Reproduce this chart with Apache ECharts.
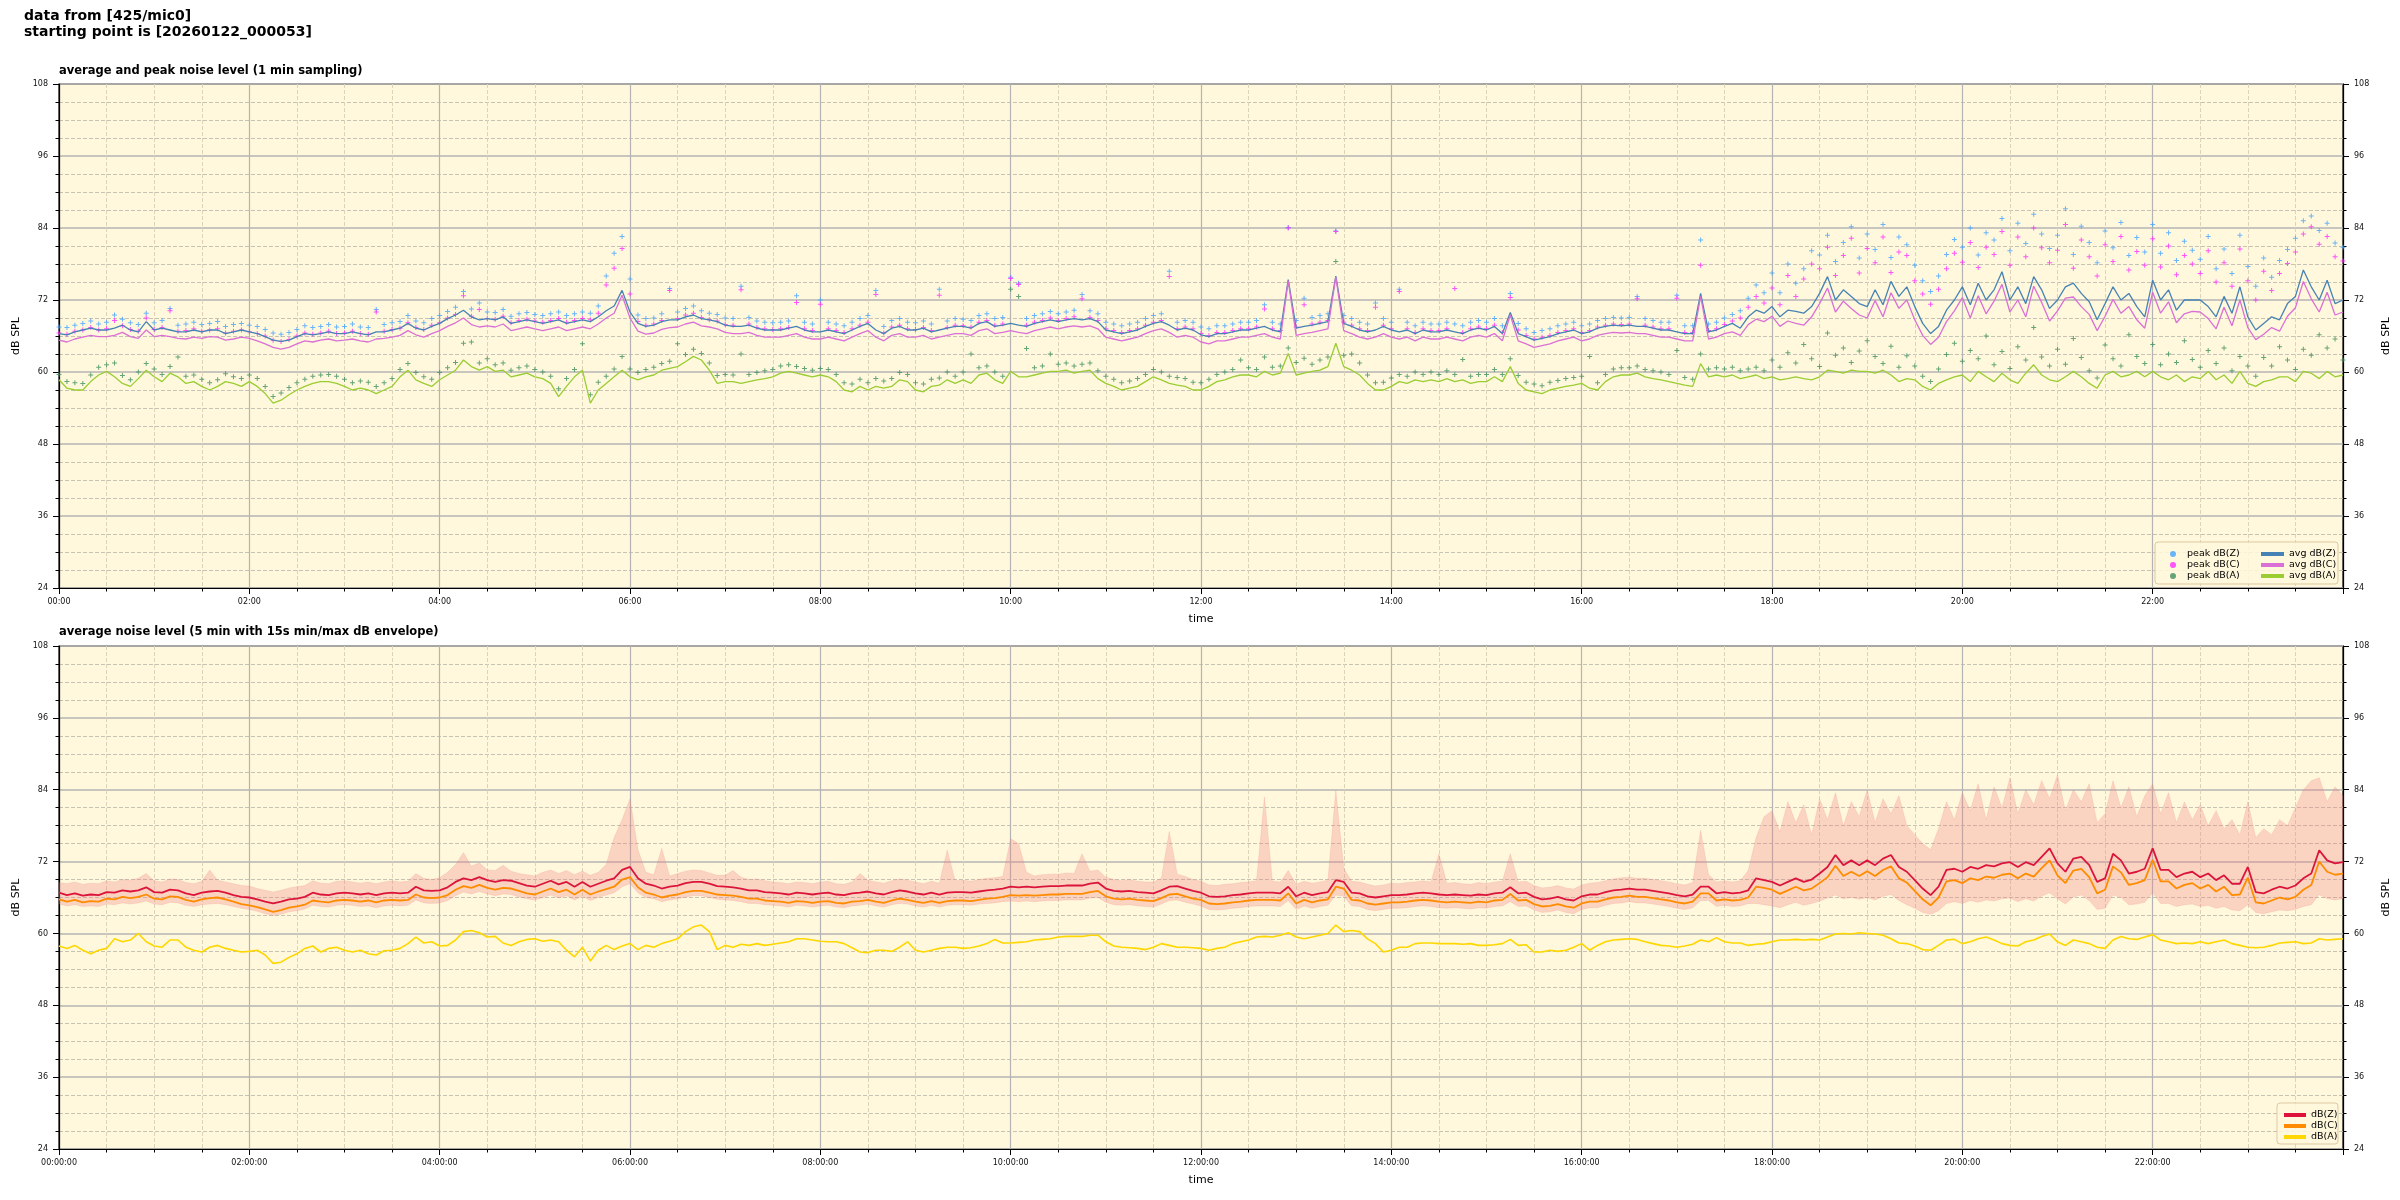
<!DOCTYPE html>
<html>
<head>
<meta charset="utf-8">
<title>noise level</title>
<script src="https://cdn.jsdelivr.net/npm/echarts@6/dist/echarts.min.js"></script>
<style>
  html, body { margin: 0; padding: 0; background: #fff; }
  #main { width: 2400px; height: 1200px; }
</style>
</head>
<body>
<div id="main"></div>
<script>
// one value every 5 minutes, 00:00 .. 24:00 (12 per row = 1 hour)
const avgZ = [
  66.4,66.2,66.7,67.0,67.3,67.0,67.0,67.3,67.8,67.0,66.7,68.4,
  67.0,67.3,67.0,66.7,66.7,67.0,66.7,67.0,67.0,66.4,66.7,67.0,
  66.7,66.4,65.9,65.3,65.1,65.3,65.9,66.4,66.2,66.4,66.7,66.4,
  66.4,66.7,66.4,66.2,66.7,66.7,67.0,67.3,68.1,67.3,67.0,67.6,
  68.1,68.9,69.5,70.3,69.2,68.7,68.9,68.7,69.2,68.1,68.4,68.7,
  68.4,68.1,68.4,68.7,68.1,68.4,68.7,68.4,69.2,70.2,71.0,73.6,
  70.0,68.1,67.6,67.8,68.4,68.7,68.7,69.2,69.5,68.9,68.7,68.4,
  67.8,67.6,67.6,67.8,67.3,67.0,67.0,67.0,67.3,67.6,67.0,66.7,
  66.7,67.0,66.7,66.4,67.0,67.6,68.1,67.0,66.4,67.3,67.6,67.0,
  67.0,67.3,66.7,67.0,67.3,67.6,67.6,67.3,68.1,68.4,67.6,67.8,
  68.1,67.8,67.6,68.1,68.4,68.7,68.4,68.7,68.9,68.7,68.9,68.4,
  67.0,66.7,66.4,66.7,67.0,67.6,68.1,68.4,67.8,67.0,67.3,67.0,
  66.2,65.9,66.4,66.4,66.7,67.0,67.0,67.3,67.6,67.0,66.7,75.4,
  67.3,67.6,67.8,68.1,68.4,76.0,68.1,67.6,67.0,66.7,67.0,67.6,
  67.0,66.7,67.0,66.4,67.0,66.7,66.7,67.0,66.7,66.4,67.0,67.3,
  67.0,67.6,66.4,69.9,66.4,65.9,65.3,65.6,65.9,66.4,66.7,67.0,
  66.4,66.7,67.3,67.6,67.8,67.7,67.8,67.6,67.6,67.3,67.0,67.0,
  66.7,66.4,66.4,73.1,66.7,67.0,67.6,68.1,67.3,69.2,70.3,69.8,
  70.9,69.2,70.3,70.1,69.8,70.9,73.1,75.9,72.0,73.7,72.6,71.4,
  70.9,73.7,71.2,75.1,72.6,74.2,70.9,68.1,66.4,67.6,70.3,72.0,
  74.2,71.2,74.8,72.0,73.7,76.7,72.0,74.2,71.4,75.9,73.7,70.6,
  72.0,74.2,74.8,73.1,71.7,68.7,71.4,74.2,72.0,73.1,70.9,69.2,
  75.3,72.0,73.7,70.3,72.0,72.0,72.0,70.9,69.2,72.6,69.8,74.2,
  69.2,67.0,68.1,69.2,68.7,71.4,72.6,77.0,74.2,72.0,75.3,71.4,
  72.0];
const avgC = [
  65.3,65.0,65.5,65.8,66.1,65.9,65.9,66.1,66.6,65.9,65.6,67.0,
  65.9,66.1,65.9,65.6,65.5,65.8,65.6,65.9,65.8,65.3,65.5,65.8,
  65.6,65.2,64.7,64.1,63.8,64.1,64.7,65.2,65.0,65.3,65.5,65.2,
  65.3,65.5,65.2,65.0,65.5,65.6,65.8,66.1,66.9,66.2,65.8,66.4,
  66.9,67.6,68.2,69.0,67.9,67.5,67.7,67.5,68.0,66.9,67.2,67.5,
  67.2,66.9,67.2,67.5,66.9,67.2,67.5,67.2,68.0,69.0,69.8,72.8,
  69.0,66.8,66.3,66.5,67.1,67.4,67.5,68.0,68.3,67.7,67.5,67.2,
  66.6,66.4,66.4,66.6,66.1,65.8,65.8,65.8,66.1,66.4,65.8,65.5,
  65.5,65.8,65.5,65.2,65.8,66.4,66.9,65.8,65.2,66.1,66.4,65.8,
  65.8,66.1,65.5,65.8,66.1,66.4,66.4,66.1,66.9,67.2,66.4,66.6,
  66.9,66.6,66.4,66.9,67.2,67.5,67.2,67.5,67.7,67.5,67.7,67.2,
  65.8,65.5,65.2,65.5,65.8,66.4,66.9,67.2,66.6,65.8,66.1,65.8,
  65.0,64.7,65.2,65.2,65.5,65.8,65.8,66.1,66.4,65.8,65.5,75.2,
  66.1,66.4,66.6,66.9,67.2,75.8,66.9,66.4,65.8,65.5,65.8,66.4,
  65.8,65.5,65.8,65.2,65.8,65.5,65.5,65.8,65.5,65.2,65.8,66.1,
  65.8,66.4,65.2,69.5,65.2,64.7,64.1,64.4,64.7,65.2,65.5,65.8,
  65.2,65.5,66.1,66.4,66.6,66.5,66.6,66.4,66.4,66.1,65.8,65.8,
  65.5,65.2,65.2,72.6,65.5,65.8,66.4,66.7,66.1,67.9,68.8,68.4,
  69.3,67.6,68.5,68.1,67.8,69.2,71.4,74.0,70.0,71.8,70.6,69.5,
  69.0,71.9,69.2,73.2,70.6,72.0,68.7,66.1,64.6,65.8,68.4,70.2,
  72.4,69.0,72.7,69.7,71.8,74.6,70.0,72.0,69.2,74.3,71.6,68.5,
  70.2,72.3,72.5,70.9,69.6,66.9,69.3,72.1,69.8,70.9,68.7,67.3,
  73.3,69.8,71.7,68.2,69.7,70.1,70.0,68.9,67.2,70.8,67.7,72.0,
  67.4,65.4,66.3,67.4,66.8,69.3,70.7,75.1,72.2,70.0,73.3,69.5,
  70.0];
const avgA = [
  58.7,57.3,57.0,57.0,58.4,59.5,60.1,59.2,58.1,57.6,58.9,60.3,
  59.2,58.4,59.8,59.2,58.1,58.4,57.6,57.0,57.6,58.4,58.1,57.6,
  58.4,57.6,56.4,54.8,55.3,56.2,57.0,57.6,58.1,58.4,58.4,58.1,
  57.6,57.0,57.3,57.0,56.4,57.0,57.6,59.2,60.3,58.7,58.1,57.6,
  58.7,59.5,60.3,62.0,60.9,60.3,60.9,60.1,60.3,59.2,59.5,59.8,
  59.2,58.9,58.1,55.9,57.6,59.2,60.3,54.8,57.0,58.1,59.2,60.3,
  59.2,58.7,59.2,59.5,60.3,60.6,60.9,61.7,62.6,62.0,60.3,58.1,
  58.4,58.4,58.1,58.4,58.7,58.9,59.2,59.8,60.1,59.8,59.5,59.2,
  59.5,59.2,58.4,57.0,56.7,57.6,57.0,57.6,57.3,57.6,58.7,58.4,
  57.0,56.7,57.6,57.8,58.7,58.1,58.7,58.1,59.5,59.8,58.7,58.1,
  60.1,59.2,59.2,59.5,59.8,60.1,60.1,60.3,59.8,60.1,60.3,58.9,
  58.1,57.6,57.0,57.3,57.6,58.4,59.2,58.7,58.1,57.8,57.6,57.0,
  57.0,57.6,58.4,58.7,59.2,59.5,59.5,59.2,60.1,59.5,59.8,63.1,
  59.5,59.8,60.1,60.3,60.9,64.8,60.9,60.3,59.5,58.1,57.0,57.0,
  57.6,58.4,58.1,58.7,58.4,58.7,58.4,58.9,58.4,58.7,58.1,58.4,
  58.4,59.2,58.4,60.9,58.1,57.0,56.7,56.4,57.0,57.3,57.6,57.8,
  58.1,57.3,57.0,58.4,59.2,59.5,59.5,59.8,59.2,58.9,58.7,58.4,
  58.1,57.8,57.6,61.4,59.2,59.5,59.2,59.5,58.9,59.2,59.5,58.9,
  59.2,58.7,58.9,59.2,58.9,58.7,59.2,60.3,60.1,59.8,60.3,60.1,
  60.1,59.8,60.3,59.5,58.4,58.9,58.7,57.6,57.0,58.1,58.7,59.2,
  59.5,58.4,60.1,59.2,58.4,59.8,58.7,58.1,59.8,61.2,59.5,58.7,
  58.4,59.2,60.1,59.2,58.1,57.3,59.5,60.1,59.2,59.5,60.1,59.2,
  60.1,59.2,58.7,59.5,58.4,59.2,58.9,60.1,58.7,59.5,58.1,60.1,
  58.1,57.6,58.4,58.7,59.2,59.2,58.4,60.1,59.8,58.9,60.1,59.2,
  59.5];
const peakZ = [
  67.5,67.4,67.8,68.1,68.5,68.0,68.3,69.5,68.8,68.2,67.9,69.8,
  68.2,68.6,70.6,67.8,68.0,68.3,67.9,68.1,68.4,67.6,67.9,68.1,
  67.8,67.6,67.1,66.5,66.3,66.6,67.1,67.7,67.4,67.6,67.9,67.5,
  67.6,68.0,67.5,67.4,70.4,67.9,68.2,68.4,69.4,68.5,68.2,68.9,
  69.4,70.1,70.8,73.4,70.5,71.5,70.0,69.9,70.4,69.3,69.7,69.9,
  69.6,69.4,69.7,70.0,69.4,69.7,70.0,69.8,71.0,76.0,79.8,82.6,
  75.5,69.5,68.9,69.0,69.7,73.9,70.0,70.6,71.0,70.2,69.8,69.6,
  69.0,68.9,74.3,69.1,68.5,68.3,68.2,68.3,68.5,72.7,68.3,68.0,
  72.0,68.3,68.0,67.7,68.3,68.9,69.4,73.6,67.6,68.6,68.9,68.3,
  68.2,68.5,68.0,73.8,68.5,68.9,68.8,68.6,69.4,69.7,68.9,69.1,
  75.8,74.8,68.9,69.4,69.7,70.1,69.7,70.0,70.3,72.9,70.2,69.7,
  68.3,68.0,67.7,68.0,68.3,68.9,69.4,69.7,76.8,68.3,68.6,68.3,
  67.5,67.2,67.7,67.7,68.0,68.3,68.3,68.6,71.2,68.3,68.0,84.1,
  68.6,72.3,69.1,69.4,69.7,83.5,69.4,68.9,68.3,68.0,71.5,68.9,
  68.3,73.8,68.3,67.7,68.3,68.0,68.0,68.3,68.0,67.7,68.3,68.6,
  68.3,68.9,67.7,73.1,68.1,67.2,66.6,66.9,67.2,67.7,68.0,68.3,
  67.7,68.0,68.6,68.9,69.1,69.0,69.1,72.6,68.9,68.6,68.3,68.3,
  72.8,67.7,67.7,82.0,68.0,68.3,69.0,69.6,70.2,72.3,74.5,73.2,
  76.5,73.2,78.0,74.8,77.2,80.2,79.5,82.8,78.4,81.6,84.2,79.0,
  83.0,80.4,84.6,79.1,82.5,81.2,77.8,75.2,73.4,76.0,79.6,82.1,
  80.8,84.0,79.5,83.2,82.0,85.6,80.2,84.8,81.4,86.3,83.0,80.6,
  82.8,87.2,79.6,84.3,81.6,78.2,83.5,80.7,84.9,79.4,82.4,80.0,
  84.6,79.8,83.2,78.6,81.8,80.3,78.8,82.6,77.2,80.5,76.4,82.8,
  77.6,74.3,79.0,75.8,78.6,80.4,82.3,85.2,86.0,83.6,84.8,81.5,
  80.8];
const peakC = [
  66.5,66.3,66.8,67.0,67.4,67.0,67.2,68.6,67.7,67.1,66.8,69.0,
  67.1,67.4,70.2,66.8,66.9,67.2,66.8,67.0,67.2,66.5,66.8,67.0,
  66.7,66.4,66.0,65.3,65.1,65.4,66.0,66.5,66.3,66.5,66.8,66.4,
  66.5,66.8,66.4,66.3,70.0,66.8,67.1,67.3,68.2,67.4,67.1,67.8,
  68.2,69.0,69.6,72.7,69.3,70.4,68.9,68.8,69.3,68.2,68.6,68.8,
  68.5,68.3,68.6,68.9,68.3,68.6,68.9,68.7,69.8,74.5,77.3,80.6,
  73.0,68.4,67.8,68.0,68.6,73.6,68.9,69.5,69.8,69.1,68.7,68.5,
  67.9,67.8,73.7,68.0,67.4,67.2,67.1,67.2,67.4,71.6,67.2,66.9,
  71.3,67.2,66.9,66.6,67.2,67.8,68.3,72.9,66.5,67.5,67.8,67.2,
  67.1,67.4,66.9,72.8,67.4,67.8,67.7,67.5,68.3,68.6,67.8,68.0,
  75.6,74.6,67.8,68.3,68.6,69.0,68.6,68.9,69.2,72.2,69.1,68.6,
  67.2,66.9,66.6,66.9,67.2,67.8,68.3,68.6,75.9,67.2,67.5,67.2,
  66.4,66.1,66.6,66.6,66.9,67.2,67.2,67.5,70.5,67.2,66.9,84.0,
  67.5,71.2,68.0,68.3,68.6,83.4,68.3,67.8,67.2,66.9,70.8,67.8,
  67.2,73.4,67.2,66.6,67.2,66.9,66.9,67.2,73.9,66.6,67.2,67.5,
  67.2,67.8,66.6,72.4,67.0,66.1,65.5,65.8,66.1,66.6,66.9,67.2,
  66.6,66.9,67.5,67.8,68.0,67.9,68.0,72.2,67.8,67.5,67.2,67.2,
  72.3,66.6,66.6,77.8,66.9,67.2,67.9,68.5,69.0,70.8,72.6,71.5,
  74.0,71.2,76.1,72.6,75.5,78.0,77.2,80.8,76.1,79.4,82.3,76.5,
  80.6,78.2,82.5,76.6,80.0,79.4,75.2,73.0,71.3,73.8,77.2,79.8,
  78.3,81.6,77.4,80.8,79.6,83.4,77.8,82.5,79.2,84.0,80.7,78.2,
  80.3,84.6,77.3,82.0,79.2,76.0,81.2,78.4,82.6,77.0,80.1,77.8,
  82.2,77.5,81.0,76.2,79.4,78.0,76.4,80.2,75.0,78.2,74.3,80.5,
  75.2,72.0,76.8,73.6,76.4,78.1,80.0,83.0,84.2,81.3,82.6,79.2,
  78.5];
const peakA = [
  59.6,58.4,58.2,58.1,59.5,60.8,61.2,61.5,59.4,58.7,60.0,61.4,
  60.5,59.6,60.9,62.5,59.3,59.5,58.8,58.2,58.7,59.7,59.2,58.9,
  59.5,58.9,57.6,55.9,56.5,57.4,58.2,58.8,59.3,59.5,59.6,59.3,
  58.8,58.2,58.5,58.3,57.6,58.2,58.9,60.4,61.4,59.9,59.2,58.8,
  59.9,60.7,61.6,64.8,65.0,61.5,62.2,61.2,61.5,60.3,60.7,61.0,
  60.4,60.0,59.3,57.2,58.9,60.4,64.7,56.2,58.3,59.3,60.5,62.6,
  60.5,59.9,60.4,60.8,61.4,61.8,64.7,62.9,63.8,63.1,61.5,59.4,
  59.6,59.5,63.0,59.6,59.9,60.2,60.4,61.0,61.2,60.9,60.6,60.3,
  60.6,60.4,59.6,58.2,58.0,58.8,58.2,58.9,58.5,58.9,59.9,59.6,
  58.2,58.0,58.8,59.0,60.0,59.3,60.0,63.0,60.7,61.0,60.0,59.3,
  73.8,72.6,63.9,60.7,61.0,63.0,61.3,61.5,61.0,61.3,61.5,60.2,
  59.3,58.8,58.2,58.5,58.9,59.6,60.4,60.0,59.3,59.1,58.9,58.3,
  58.2,58.8,59.6,60.0,60.4,62.0,60.7,60.4,62.5,60.8,61.0,64.0,
  61.6,62.3,61.3,62.0,62.5,78.4,62.8,63.0,61.5,59.5,58.2,58.3,
  59.0,59.6,59.3,60.0,59.6,60.0,59.6,60.2,59.6,62.1,59.3,59.6,
  59.6,60.4,59.6,62.2,59.4,58.3,58.0,57.7,58.3,58.6,58.9,59.1,
  59.3,62.6,58.2,59.6,60.5,60.7,60.7,61.0,60.4,60.2,60.0,59.6,
  63.6,59.1,58.8,63.0,60.5,60.7,60.5,60.8,60.2,60.5,60.8,60.2,
  62.0,60.8,63.2,61.5,64.6,62.2,60.9,66.5,62.8,64.0,61.6,63.5,
  65.2,62.6,61.4,64.3,60.8,62.7,61.0,59.3,58.4,60.5,62.9,64.8,
  61.8,63.6,62.2,66.0,61.2,63.4,60.6,64.2,62.0,67.4,62.5,61.0,
  63.8,61.3,65.6,62.4,60.2,59.0,64.5,62.2,61.0,66.2,62.6,61.4,
  64.6,61.2,63.0,61.6,65.2,62.1,60.8,63.6,61.4,64.0,60.2,62.6,
  61.0,59.3,62.4,61.0,64.2,62.0,60.4,63.8,62.8,66.2,64.0,65.5,
  62.0];

// bottom panel: 5 min averages and 15 s min/max envelope
const dbZ = [
  66.8,66.4,66.7,66.3,66.5,66.4,66.9,66.8,67.2,67.0,67.2,67.7,
  66.9,66.8,67.3,67.2,66.7,66.4,66.8,67.0,67.1,66.8,66.4,66.1,
  66.0,65.7,65.3,65.0,65.3,65.7,65.8,66.1,66.8,66.5,66.4,66.7,
  66.8,66.7,66.5,66.7,66.4,66.7,66.8,66.7,66.8,67.8,67.2,67.1,
  67.2,67.7,68.6,69.2,68.9,69.4,68.9,68.6,68.9,68.8,68.4,68.0,
  67.8,68.3,68.8,68.2,68.6,67.8,68.6,67.8,68.3,68.8,69.2,70.6,
  71.1,69.2,68.3,68.0,67.5,67.8,68.0,68.4,68.6,68.6,68.3,67.9,
  67.8,67.7,67.5,67.2,67.2,66.9,66.8,66.7,66.5,66.8,66.7,66.5,
  66.7,66.8,66.5,66.4,66.7,66.8,67.0,66.7,66.5,66.9,67.2,67.0,
  66.7,66.5,66.8,66.5,66.8,66.9,66.9,66.8,67.0,67.2,67.3,67.5,
  67.8,67.7,67.8,67.7,67.8,67.9,67.9,68.0,68.0,68.0,68.3,68.5,
  67.5,67.1,67.0,67.1,66.9,66.8,66.7,67.2,67.8,67.9,67.5,67.1,
  66.8,66.2,66.1,66.2,66.4,66.5,66.7,66.8,66.8,66.8,66.7,67.8,
  66.2,66.8,66.4,66.7,66.9,68.9,68.6,66.8,66.7,66.2,66.0,66.2,
  66.4,66.4,66.5,66.7,66.8,66.7,66.5,66.4,66.5,66.4,66.3,66.5,
  66.4,66.7,66.8,67.7,66.7,66.8,66.1,65.7,65.8,66.1,65.7,65.5,
  66.2,66.5,66.5,66.9,67.2,67.3,67.5,67.3,67.3,67.1,66.9,66.7,
  66.4,66.2,66.5,67.8,67.8,66.7,66.9,66.7,66.8,67.2,69.2,68.9,
  68.6,68.0,68.6,69.2,68.6,69.0,70.0,71.1,73.1,71.4,72.2,71.4,
  72.2,71.4,72.5,73.1,71.1,70.3,68.9,67.5,66.4,67.8,70.6,70.8,
  70.3,71.1,70.8,71.4,71.2,71.7,71.9,71.1,71.9,71.4,72.8,74.2,
  71.7,70.3,72.5,72.8,71.4,68.6,69.2,73.3,72.2,70.0,70.3,70.8,
  74.2,70.6,70.6,69.4,70.0,70.3,69.4,70.0,68.9,69.7,68.3,68.3,
  71.1,66.9,66.7,67.3,67.8,67.5,68.0,69.2,70.0,73.9,72.2,71.7,
  71.9];
const dbC = [
  65.7,65.3,65.6,65.2,65.4,65.3,65.8,65.7,66.1,65.9,66.1,66.5,
  65.8,65.7,66.2,66.1,65.6,65.3,65.7,65.9,66.0,65.7,65.3,64.9,
  64.7,64.4,64.0,63.6,63.9,64.3,64.5,64.8,65.5,65.3,65.2,65.5,
  65.6,65.5,65.3,65.5,65.2,65.5,65.6,65.5,65.6,66.5,66.0,65.9,
  66.0,66.4,67.3,67.9,67.6,68.1,67.6,67.3,67.6,67.5,67.1,66.7,
  66.5,67.0,67.5,66.9,67.3,66.5,67.3,66.5,67.0,67.4,67.8,69.0,
  69.4,67.7,66.8,66.5,66.0,66.3,66.5,66.9,67.1,67.1,66.8,66.5,
  66.4,66.3,66.1,65.8,65.8,65.5,65.4,65.3,65.1,65.4,65.3,65.1,
  65.3,65.4,65.1,65.0,65.3,65.4,65.6,65.3,65.1,65.5,65.8,65.6,
  65.3,65.1,65.4,65.1,65.4,65.5,65.5,65.4,65.6,65.8,65.9,66.1,
  66.4,66.3,66.4,66.3,66.4,66.5,66.5,66.6,66.6,66.6,66.9,67.1,
  66.2,65.8,65.7,65.8,65.6,65.5,65.4,65.9,66.5,66.6,66.2,65.8,
  65.6,65.0,64.9,65.0,65.2,65.3,65.5,65.6,65.6,65.6,65.5,66.7,
  65.0,65.6,65.2,65.5,65.7,67.8,67.5,65.6,65.5,65.0,64.8,65.0,
  65.2,65.2,65.3,65.5,65.6,65.5,65.3,65.2,65.3,65.2,65.1,65.3,
  65.2,65.5,65.6,66.6,65.5,65.6,64.9,64.5,64.6,64.9,64.5,64.3,
  65.0,65.3,65.3,65.7,66.0,66.1,66.3,66.1,66.1,65.9,65.7,65.5,
  65.2,65.0,65.3,66.7,66.7,65.5,65.7,65.5,65.6,66.0,67.8,67.6,
  67.3,66.6,67.2,67.8,67.2,67.5,68.4,69.4,71.3,69.6,70.3,69.6,
  70.4,69.6,70.6,71.2,69.2,68.5,67.1,65.7,64.7,66.0,68.7,68.9,
  68.4,69.2,68.9,69.5,69.3,69.8,70.0,69.2,70.0,69.5,70.9,72.2,
  69.7,68.4,70.5,70.8,69.4,66.7,67.3,71.2,70.2,68.1,68.4,68.9,
  72.3,68.7,68.7,67.5,68.1,68.4,67.5,68.1,67.0,67.8,66.4,66.5,
  69.3,65.2,65.0,65.5,66.0,65.7,66.1,67.3,68.1,72.0,70.3,69.8,
  70.0];
const dbA = [
  57.9,57.5,58.0,57.2,56.6,57.2,57.5,59.1,58.6,58.9,60.0,58.6,
  57.9,57.7,58.9,58.9,57.7,57.2,56.9,57.7,58.0,57.5,57.2,56.9,
  57.0,57.2,56.4,55.0,55.2,56.0,56.6,57.5,57.9,56.9,57.5,57.7,
  57.2,56.9,57.2,56.6,56.4,57.1,57.2,57.5,58.3,59.4,58.4,58.6,
  57.9,58.0,58.9,60.3,60.5,60.1,59.4,59.5,58.4,58.0,58.6,59.0,
  59.1,58.7,58.9,58.6,57.2,56.1,57.7,55.4,57.2,58.0,57.3,57.9,
  58.3,57.3,58.0,57.7,58.3,58.7,59.1,60.3,61.1,61.4,60.3,57.3,
  58.0,57.7,58.2,58.0,58.3,58.0,58.2,58.4,58.6,59.1,59.1,58.9,
  58.7,58.6,58.6,58.3,57.6,56.9,56.8,57.2,57.2,57.0,57.7,58.6,
  57.2,56.9,57.2,57.5,57.7,57.7,57.5,57.6,57.9,58.3,59.0,58.4,
  58.4,58.5,58.6,58.9,59.0,59.1,59.4,59.5,59.5,59.5,59.7,59.7,
  58.6,57.9,57.7,57.6,57.5,57.3,57.7,58.3,58.0,57.7,57.7,57.6,
  57.5,57.2,57.5,57.7,58.3,58.6,58.9,59.4,59.5,59.4,59.7,60.1,
  59.4,59.1,59.4,59.7,60.0,61.4,60.3,60.5,60.3,59.1,58.3,56.9,
  57.2,57.7,57.7,58.3,58.4,58.4,58.3,58.3,58.3,58.2,58.3,58.0,
  58.0,58.1,58.3,59.0,58.0,58.1,56.9,56.9,57.2,57.0,57.2,57.7,
  58.3,57.2,58.0,58.6,58.9,59.0,59.1,59.0,58.6,58.3,58.0,57.9,
  57.7,57.9,58.2,58.9,58.6,59.3,58.6,58.4,58.4,58.0,58.2,58.3,
  58.6,58.9,58.9,59.0,58.9,59.0,58.9,59.4,59.9,60.0,59.9,60.1,
  60.0,59.9,59.7,59.1,58.4,58.3,57.9,57.3,57.2,58.0,58.9,59.0,
  58.3,58.6,59.1,59.4,58.9,58.3,58.0,57.9,58.6,58.9,59.5,59.9,
  58.6,58.0,58.9,58.6,58.3,57.7,57.5,58.9,59.5,59.1,59.0,59.4,
  59.8,58.9,58.6,58.3,58.4,58.3,58.6,58.3,58.6,58.9,58.3,58.0,
  57.7,57.6,57.7,58.0,58.4,58.5,58.6,58.3,58.4,59.1,58.9,59.0,
  59.1];
const envLo = [
  64.9,64.6,64.8,64.5,64.6,64.5,64.9,64.8,65.1,64.9,65.1,65.4,
  64.9,64.8,65.2,65.1,64.7,64.5,64.8,64.9,65.0,64.8,64.5,64.2,
  64.0,63.7,63.3,63.0,63.2,63.6,63.8,64.1,64.7,64.5,64.4,64.7,
  64.8,64.7,64.5,64.6,64.3,64.6,64.7,64.6,64.7,65.6,65.1,65.0,
  65.1,65.5,66.3,66.9,66.6,67.0,66.6,66.3,66.6,66.5,66.1,65.8,
  65.6,66.0,66.4,65.9,66.3,65.6,66.2,65.5,66.0,66.4,66.8,67.8,
  68.3,66.8,66.0,65.8,65.3,65.6,65.8,66.1,66.3,66.3,66.0,65.7,
  65.6,65.5,65.3,65.0,65.0,64.8,64.7,64.6,64.4,64.7,64.6,64.4,
  64.6,64.7,64.4,64.3,64.6,64.7,64.9,64.6,64.4,64.8,65.0,64.9,
  64.6,64.4,64.7,64.4,64.7,64.8,64.8,64.7,64.9,65.0,65.1,65.3,
  65.4,65.3,65.4,65.3,65.4,65.5,65.5,65.6,65.6,65.6,65.9,66.0,
  65.2,64.8,64.7,64.8,64.6,64.5,64.4,64.9,65.5,65.6,65.2,64.9,
  64.6,64.0,63.9,64.0,64.2,64.3,64.5,64.6,64.6,64.6,64.5,65.5,
  64.0,64.6,64.2,64.5,64.7,66.4,66.2,64.6,64.5,64.0,63.8,64.0,
  64.2,64.2,64.3,64.5,64.6,64.5,64.3,64.2,64.3,64.2,64.1,64.3,
  64.2,64.5,64.6,65.3,64.5,64.6,63.9,63.5,63.6,63.9,63.5,63.3,
  64.0,64.3,64.3,64.7,65.0,65.1,65.3,65.1,65.1,64.9,64.7,64.5,
  64.2,64.0,64.3,65.5,65.5,64.5,64.7,64.5,64.6,65.0,65.0,64.8,
  64.6,64.3,64.8,65.2,64.7,65.0,65.4,65.9,66.4,65.8,66.0,65.7,
  66.0,65.6,66.2,66.5,65.5,64.8,64.2,63.5,63.2,63.8,65.0,65.3,
  65.0,65.5,65.2,65.6,65.4,65.8,65.9,65.3,65.8,65.4,66.2,66.8,
  65.8,64.9,66.1,66.4,65.5,64.0,64.2,66.4,66.0,64.8,64.9,65.2,
  66.8,65.0,65.0,64.5,64.8,64.9,64.5,64.7,64.2,64.5,63.9,63.8,
  64.8,63.5,63.3,63.6,63.9,63.8,64.0,64.5,64.8,66.5,65.8,65.6,
  65.8];
const envHi = [
  68.5,68.3,68.6,68.2,68.4,68.3,68.8,68.6,69.0,68.9,69.2,70.0,
  68.8,68.6,69.1,69.0,68.5,68.3,68.7,70.6,68.9,68.6,68.3,68.0,
  67.9,67.5,67.2,66.9,67.2,67.6,67.8,68.0,68.8,68.4,68.3,68.7,
  68.8,68.6,68.4,68.6,68.3,68.6,68.8,68.6,68.7,70.0,69.2,69.0,
  69.3,70.2,71.5,73.5,71.2,71.8,70.6,70.5,71.4,70.4,70.0,69.8,
  69.6,70.2,70.6,70.0,70.5,69.8,70.4,69.7,70.2,71.5,76.0,79.0,
  82.5,74.0,70.2,69.8,74.2,69.6,70.0,70.4,70.6,70.5,70.1,69.7,
  69.7,70.5,69.4,69.0,69.1,68.8,68.6,68.5,68.3,68.6,68.5,68.3,
  68.6,68.7,68.3,68.2,68.6,70.0,68.9,68.6,68.4,68.8,69.1,68.9,
  68.6,68.3,68.7,68.4,73.9,68.8,68.9,68.7,69.0,69.2,69.3,69.5,
  75.8,75.0,70.2,69.6,69.8,69.9,69.9,70.1,70.0,73.3,70.4,70.6,
  69.4,69.0,68.8,69.0,68.7,68.6,68.6,69.2,77.0,69.9,69.5,69.0,
  68.7,68.1,68.0,68.2,68.3,68.5,68.6,68.8,82.8,68.7,68.6,70.5,
  68.2,68.7,68.4,68.6,68.9,83.9,70.9,68.7,68.6,68.2,67.9,68.1,
  68.4,68.3,68.5,68.6,68.8,68.6,73.3,68.4,68.5,68.3,68.2,68.5,
  68.3,68.6,68.7,73.3,68.6,68.7,68.0,67.6,67.7,68.0,67.6,67.4,
  68.1,68.4,68.5,68.8,69.1,69.3,69.4,69.2,69.2,69.0,68.8,68.6,
  68.3,68.1,68.5,77.2,69.8,68.6,68.8,68.6,68.8,70.5,76.0,79.5,
  80.5,77.0,82.0,78.5,81.5,76.5,82.5,79.0,83.5,78.0,82.0,79.5,
  84.0,78.5,82.5,80.0,83.0,78.0,76.5,75.0,74.0,77.5,82.0,79.0,
  83.5,80.5,85.0,79.0,84.5,81.0,86.0,80.0,84.0,81.5,85.5,82.5,
  86.5,80.5,84.0,82.0,85.0,78.5,80.0,85.5,81.0,84.5,79.5,83.0,
  85.0,80.0,83.5,78.5,82.0,79.0,81.5,78.0,80.5,77.5,79.0,76.5,
  82.0,76.0,77.5,76.5,79.0,78.0,81.0,84.0,85.5,86.0,82.0,84.5,
  83.0];

const STEP = 5; // minutes between samples
const pts = arr => arr.map((v, i) => [i * STEP, v]);
const pad = n => String(n).padStart(2, '0');
const hhmm = (v, sec) => {
  const h = Math.floor(v / 60), m = Math.round(v % 60);
  return pad(h) + ':' + pad(m) + (sec ? ':00' : '');
};

const plus = 'path://M2,0h1v2h2v1h-2v2h-1v-2h-2v-1h2z';
const bg = '#fff8dc';

function timeAxis(gridIndex, sec) {
  return {
    type: 'value', gridIndex, min: 0, max: 1440, interval: 120,
    name: 'time', nameLocation: 'middle', nameGap: 26,
    nameTextStyle: { fontSize: 11, color: '#000' },
    axisLine: { show: true, onZero: false, lineStyle: { color: '#000', width: 1.2 } },
    axisTick: { show: true, length: 6, lineStyle: { color: '#000' } },
    minorTick: { show: true, splitNumber: 4, length: 3.5, lineStyle: { color: '#000' } },
    axisLabel: { fontSize: 8, color: '#111', margin: 10, showMaxLabel: false,
      formatter: v => hhmm(v, sec) },
    splitLine: { show: true, lineStyle: { color: '#b4b4b4', width: 1.2 } },
    minorSplitLine: { show: true, lineStyle: { color: '#ddd3b6', type: 'dashed', width: 1 } }
  };
}

function dbAxis(gridIndex, pos) {
  const left = pos === 'left';
  return {
    type: 'value', gridIndex, position: pos, min: 24, max: 108, interval: 12,
    name: 'dB SPL', nameLocation: 'middle', nameGap: 35, nameRotate: 90,
    nameTextStyle: { fontSize: 11, color: '#000' },
    axisLine: { show: true, onZero: false, lineStyle: { color: '#000', width: 1.2 } },
    axisTick: { show: true, length: 6, lineStyle: { color: '#000' } },
    minorTick: { show: true, splitNumber: 4, length: 3.5, lineStyle: { color: '#000' } },
    axisLabel: { fontSize: 8, color: '#111', margin: 11 },
    splitLine: { show: left, lineStyle: { color: '#b4b4b4', width: 1.5 } },
    minorSplitLine: { show: left, lineStyle: { color: '#c6c2b4', type: 'dashed', width: 1 } }
  };
}

// min/max envelope drawn as one polygon: upper edge forward, lower edge back
function envelope(params, api) {
  if (params.dataIndex !== 0) return null;
  const up = envHi.map((v, i) => api.coord([i * STEP, v]));
  const dn = envLo.map((v, i) => api.coord([i * STEP, v])).reverse();
  return {
    type: 'polygon', silent: true,
    shape: { points: up.concat(dn) },
    style: { fill: 'rgba(240,128,128,0.3)', stroke: 'rgba(240,128,128,0.3)', lineWidth: 0.6 }
  };
}

const chart = echarts.init(document.getElementById('main'));
chart.setOption({
  animation: false,
  backgroundColor: '#fff',
  textStyle: { fontFamily: 'DejaVu Sans' },
  title: [
    { text: 'data from [425/mic0]\nstarting point is [20260122_000053]', left: 24, top: 9, padding: 0,
      textStyle: { fontSize: 14, fontWeight: 'bold', lineHeight: 15.5, color: '#000' } },
    { text: 'average and peak noise level (1 min sampling)', left: 59, top: 65, padding: 0,
      textStyle: { fontSize: 11.5, fontWeight: 'bold', color: '#000' } },
    { text: 'average noise level (5 min with 15s min/max dB envelope)', left: 59, top: 626, padding: 0,
      textStyle: { fontSize: 11.5, fontWeight: 'bold', color: '#000' } }
  ],
  grid: [
    { left: 59, right: 57, top: 84, height: 504, show: true, backgroundColor: bg, borderColor: '#000', borderWidth: 1.2 },
    { left: 59, right: 57, top: 646, height: 503, show: true, backgroundColor: bg, borderColor: '#000', borderWidth: 1.2 }
  ],
  xAxis: [timeAxis(0, false), timeAxis(1, true)],
  yAxis: [dbAxis(0, 'left'), dbAxis(0, 'right'), dbAxis(1, 'left'), dbAxis(1, 'right')],
  graphic: [
    { type: 'rect', z: 3, shape: { x: 2155, y: 542, width: 183, height: 42, r: 3 },
      style: { fill: 'rgba(255,248,220,0.85)', stroke: '#dcc9a2', lineWidth: 1 } },
    { type: 'rect', z: 3, shape: { x: 2277, y: 1103, width: 61, height: 41, r: 3 },
      style: { fill: 'rgba(255,248,220,0.85)', stroke: '#dcc9a2', lineWidth: 1 } }
  ],
  legend: [
    { data: ['peak dB(Z)', 'peak dB(C)', 'peak dB(A)'], orient: 'vertical', left: 2165, top: 544,
      icon: 'circle', itemWidth: 6, itemHeight: 6, itemGap: 1, selectedMode: false,
      textStyle: { fontSize: 9.5, color: '#000', padding: [0, 0, 0, 6] } },
    { data: ['avg dB(Z)', 'avg dB(C)', 'avg dB(A)'], orient: 'vertical', left: 2256, top: 544,
      icon: 'rect', itemWidth: 23, itemHeight: 4, itemGap: 1, selectedMode: false,
      textStyle: { fontSize: 9.5, color: '#000' } },
    { data: ['dB(Z)', 'dB(C)', 'dB(A)'], orient: 'vertical', left: 2279, top: 1105,
      icon: 'rect', itemWidth: 22, itemHeight: 4, itemGap: 1, selectedMode: false,
      textStyle: { fontSize: 9.5, color: '#000' } }
  ],
  series: [
    { name: 'peak dB(Z)', type: 'scatter', xAxisIndex: 0, yAxisIndex: 0, data: pts(peakZ),
      symbol: plus, symbolSize: 5, itemStyle: { color: '#45a3ff' } },
    { name: 'peak dB(C)', type: 'scatter', xAxisIndex: 0, yAxisIndex: 0, data: pts(peakC),
      symbol: plus, symbolSize: 5, itemStyle: { color: '#ff2bff' } },
    { name: 'peak dB(A)', type: 'scatter', xAxisIndex: 0, yAxisIndex: 0, data: pts(peakA),
      symbol: plus, symbolSize: 5, itemStyle: { color: '#3e8e5e' } },
    { name: 'avg dB(Z)', type: 'line', xAxisIndex: 0, yAxisIndex: 0, data: pts(avgZ),
      showSymbol: false, itemStyle: { color: '#4682b4' }, lineStyle: { width: 1.3 } },
    { name: 'avg dB(C)', type: 'line', xAxisIndex: 0, yAxisIndex: 0, data: pts(avgC),
      showSymbol: false, itemStyle: { color: '#da70d6' }, lineStyle: { width: 1.3 } },
    { name: 'avg dB(A)', type: 'line', xAxisIndex: 0, yAxisIndex: 0, data: pts(avgA),
      showSymbol: false, itemStyle: { color: '#9acd32' }, lineStyle: { width: 1.3 } },

    { name: 'envelope', type: 'custom', xAxisIndex: 1, yAxisIndex: 2, silent: true,
      data: envHi.map((v, i) => [i * STEP, envLo[i], v]),
      encode: { x: 0, y: [1, 2] }, renderItem: envelope },
    { name: 'dB(Z)', type: 'line', xAxisIndex: 1, yAxisIndex: 2, data: pts(dbZ),
      showSymbol: false, itemStyle: { color: '#dc143c' }, lineStyle: { width: 1.8 } },
    { name: 'dB(C)', type: 'line', xAxisIndex: 1, yAxisIndex: 2, data: pts(dbC),
      showSymbol: false, itemStyle: { color: '#ff8c00' }, lineStyle: { width: 1.8 } },
    { name: 'dB(A)', type: 'line', xAxisIndex: 1, yAxisIndex: 2, data: pts(dbA),
      showSymbol: false, itemStyle: { color: '#ffd700' }, lineStyle: { width: 1.6 } }
  ]
});
</script>
</body>
</html>
